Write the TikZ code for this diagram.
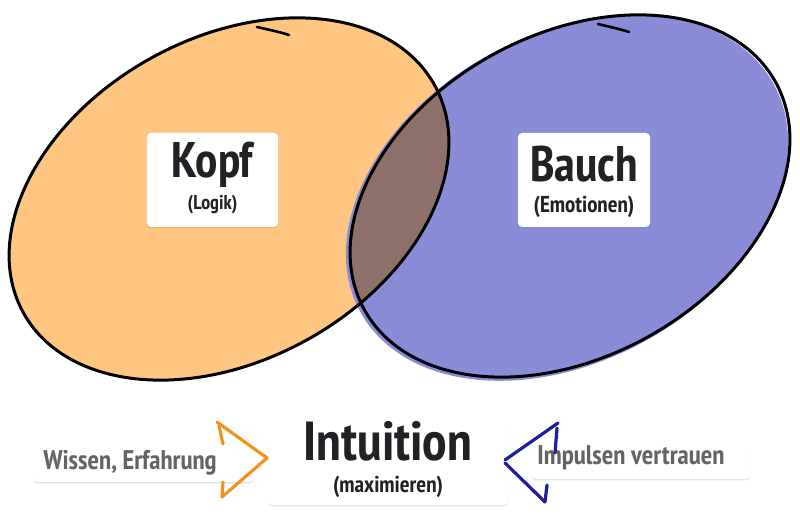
\documentclass[tikz,border=0pt]{standalone}
\usepackage{fontspec}
\setmainfont{PT Sans Narrow}
\usetikzlibrary{shadows}
\definecolor{kopffill}{RGB}{254,198,128}
\definecolor{bauchfill}{RGB}{138,140,216}
\definecolor{lensfill}{RGB}{142,112,106}
\definecolor{inkdark}{RGB}{34,34,38}
\definecolor{inkgray}{RGB}{100,100,100}
\definecolor{arroworange}{RGB}{240,148,30}
\definecolor{arrowblue}{RGB}{28,30,158}
\tikzset{
  outline/.style={draw=black, line width=3pt},
  card/.style={fill=white, rounded corners=4pt, inner sep=0pt,
    drop shadow={shadow xshift=0pt, shadow yshift=-1.5pt, opacity=0.22}},
  bigtext/.style={font=\bfseries\fontsize{50}{50}\selectfont, text=inkdark, anchor=base, inner sep=0pt},
  smalltext/.style={font=\bfseries\fontsize{20}{20}\selectfont, text=inkdark, anchor=base, inner sep=0pt},
  sidetext/.style={font=\bfseries\fontsize{27}{27}\selectfont, text=inkgray, anchor=base, inner sep=0pt},
  chevron/.style={line width=3.2pt, line cap=round, line join=round},
}
\begin{document}
\begin{tikzpicture}[x=1pt,y=1pt]
\useasboundingbox (0,0) rectangle (800,518);
% fills
\fill[kopffill, rotate around={29:(229,319)}] (229,319) ellipse (235 and 161);
\fill[bauchfill, rotate around={29:(567,320)}] (567,320) ellipse (236 and 163);
\begin{scope}
  \clip[rotate around={29:(229,319)}] (229,319) ellipse (235 and 161);
  \fill[lensfill, rotate around={29:(570,322)}] (570,322) ellipse (235 and 161);
\end{scope}
% outlines
\draw[outline, rotate around={29:(229,319)}] (229,319) ellipse (235 and 161);
\draw[outline, rotate around={29:(570,322)}] (570,322) ellipse (235 and 161);
\draw[line width=2.6pt, line cap=round] (257,491) .. controls (270,488) and (280,486) .. (289,483);
\draw[line width=2.6pt, line cap=round] (598,494) .. controls (610,491) and (620,489) .. (629,486);
% cards in the ellipses
\node[card, minimum width=131pt, minimum height=94pt] (kopfcard) at (212.5,338) {};
\node[card, minimum width=132pt, minimum height=94pt] (bauchcard) at (584,338) {};
\node[bigtext] (kopf) at (212.5,340) {Kopf};
\node[smalltext] (logik) at (212.5,308) {(Logik)};
\node[bigtext] (bauch) at (584,336) {Bauch};
\node[smalltext, font=\bfseries\fontsize{23}{23}\selectfont] (emo) at (584,305) {(Emotionen)};
% bottom row
\node[card, minimum width=220pt, minimum height=42pt] (wissencard) at (143,57) {};
\node[card, minimum width=218pt, minimum height=39pt] (impulscard) at (641,58.5) {};
\node[card, minimum width=240pt, minimum height=88pt] (intucard) at (388,57) {};
\node[sidetext] (wissen) at (130,48) {Wissen, Erfahrung};
\node[sidetext] (impuls) at (631,53) {Impulsen vertrauen};
\node[bigtext, font=\bfseries\fontsize{55}{55}\selectfont] (intu) at (388,57) {Intuition};
\node[smalltext, font=\bfseries\fontsize{23}{23}\selectfont] (maxi) at (388,25) {(maximieren)};
% chevrons
\coordinate (ot) at (217,96);
\coordinate (otip) at (267,60);
\coordinate (ob) at (222,21);
\draw[chevron, arroworange] (ot) -- (otip) -- (ob);
\draw[chevron, arroworange] (219,92) -- (223,74);
\draw[chevron, arroworange] (223,36) -- (222,21);
\coordinate (bt) at (558,95);
\coordinate (btip) at (505,58);
\coordinate (bb) at (545,16);
\draw[chevron, arrowblue] (bt) -- (btip);
\draw[chevron, arrowblue] (btip) ++(0,-3) -- (bb);
\draw[chevron, arrowblue] (557,90) -- (555,65);
\draw[chevron, arrowblue] (547,33) -- (545,16);
\end{tikzpicture}
\end{document}
